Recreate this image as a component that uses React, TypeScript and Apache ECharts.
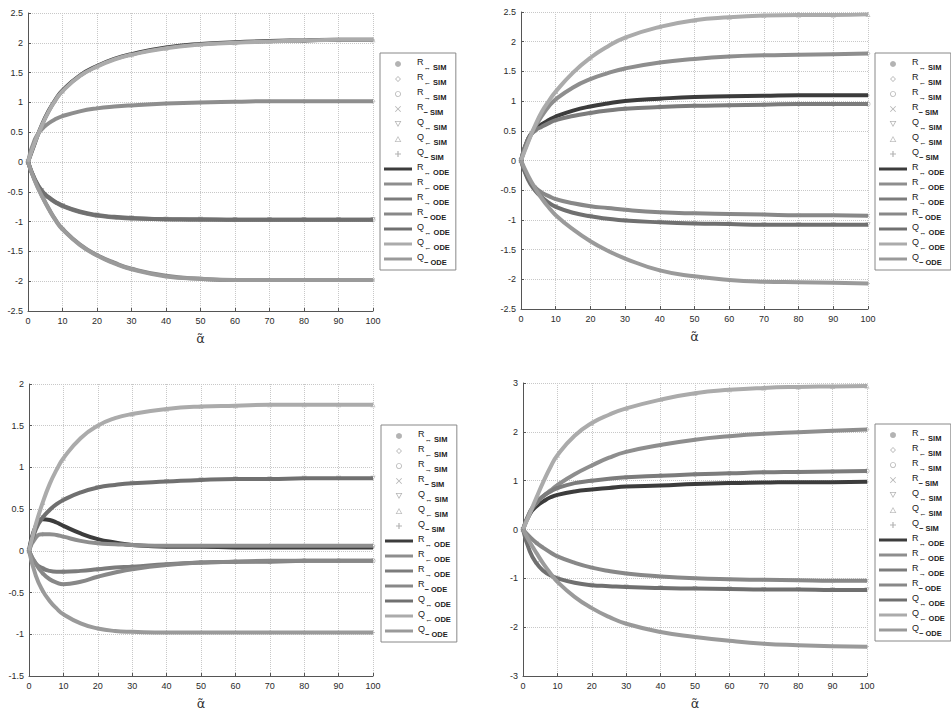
import React, { useEffect, useRef } from 'react';
import * as echarts from 'echarts';

// alpha-tilde sample points (ODE) and simulation sample points
const alpha = [0, 2, 4, 6, 8, 10, 15, 20, 25, 30, 40, 50, 60, 70, 80, 90, 100];
const simAlpha = [0, 4, 10, 20, 30, 40, 50, 60, 70, 80, 90, 100];
const xTicks = { min: 0, max: 100, step: 10 };

// Panel 1 (top left)
const p1_R_both = [0, 0.32, 0.62, 0.86, 1.05, 1.2, 1.45, 1.61, 1.73, 1.81, 1.92, 1.98, 2.01, 2.03, 2.04, 2.05, 2.05];
const p1_R_left = [0, 0.38, 0.55, 0.65, 0.72, 0.77, 0.85, 0.9, 0.93, 0.95, 0.98, 1.0, 1.01, 1.02, 1.02, 1.02, 1.02];
const p1_R_right = [0, -0.3, -0.49, -0.6, -0.68, -0.74, -0.84, -0.9, -0.93, -0.95, -0.96, -0.97, -0.97, -0.97, -0.97, -0.97, -0.97];
const p1_R_minus = [0, -0.31, -0.56, -0.78, -0.97, -1.12, -1.38, -1.56, -1.69, -1.79, -1.91, -1.96, -1.98, -1.98, -1.98, -1.98, -1.98];
const p1_Q_both = [0, -0.29, -0.48, -0.59, -0.67, -0.73, -0.83, -0.89, -0.92, -0.94, -0.96, -0.96, -0.97, -0.97, -0.97, -0.97, -0.97];
const p1_Q_left = [0, 0.33, 0.61, 0.85, 1.04, 1.19, 1.44, 1.6, 1.72, 1.8, 1.91, 1.97, 2.0, 2.02, 2.04, 2.05, 2.05];
const p1_Q_minus = [0, -0.32, -0.57, -0.79, -0.98, -1.13, -1.39, -1.57, -1.7, -1.8, -1.92, -1.96, -1.98, -1.98, -1.98, -1.98, -1.98];

// Panel 2 (top right)
const p2_R_both = [0, 0.36, 0.52, 0.61, 0.68, 0.74, 0.84, 0.91, 0.96, 1.0, 1.04, 1.07, 1.08, 1.09, 1.1, 1.1, 1.1];
const p2_R_left = [0, 0.32, 0.56, 0.75, 0.91, 1.03, 1.23, 1.37, 1.47, 1.55, 1.65, 1.71, 1.75, 1.77, 1.78, 1.79, 1.8];
const p2_R_right = [0, 0.36, 0.5, 0.57, 0.63, 0.68, 0.75, 0.8, 0.84, 0.87, 0.9, 0.92, 0.93, 0.94, 0.95, 0.95, 0.95];
const p2_R_minus = [0, -0.3, -0.45, -0.54, -0.6, -0.65, -0.72, -0.77, -0.8, -0.83, -0.87, -0.89, -0.9, -0.91, -0.92, -0.92, -0.93];
const p2_Q_both = [0, -0.32, -0.5, -0.62, -0.71, -0.78, -0.88, -0.94, -0.98, -1.01, -1.04, -1.06, -1.07, -1.08, -1.08, -1.08, -1.08];
const p2_Q_left = [0, 0.3, 0.58, 0.82, 1.0, 1.16, 1.48, 1.73, 1.92, 2.07, 2.25, 2.36, 2.41, 2.44, 2.45, 2.45, 2.46];
const p2_Q_minus = [0, -0.25, -0.46, -0.64, -0.79, -0.92, -1.16, -1.36, -1.52, -1.65, -1.85, -1.95, -2.01, -2.04, -2.05, -2.06, -2.07];

// Panel 3 (bottom left)
const p3_R_both = [0, 0.3, 0.38, 0.37, 0.34, 0.3, 0.21, 0.14, 0.1, 0.07, 0.05, 0.05, 0.04, 0.04, 0.04, 0.04, 0.04];
const p3_R_left = [0, 0.16, 0.2, 0.2, 0.19, 0.17, 0.12, 0.09, 0.08, 0.07, 0.06, 0.06, 0.06, 0.06, 0.06, 0.06, 0.06];
const p3_R_right = [0, -0.15, -0.21, -0.24, -0.25, -0.25, -0.24, -0.22, -0.2, -0.19, -0.16, -0.14, -0.13, -0.13, -0.12, -0.12, -0.12];
const p3_R_minus = [0, -0.16, -0.27, -0.34, -0.38, -0.4, -0.37, -0.31, -0.26, -0.22, -0.17, -0.14, -0.13, -0.12, -0.12, -0.12, -0.12];
const p3_Q_both = [0, 0.26, 0.4, 0.49, 0.56, 0.61, 0.7, 0.76, 0.79, 0.81, 0.83, 0.85, 0.86, 0.86, 0.87, 0.87, 0.87];
const p3_Q_left = [0, 0.32, 0.58, 0.8, 0.97, 1.11, 1.35, 1.5, 1.59, 1.64, 1.7, 1.73, 1.74, 1.75, 1.75, 1.75, 1.75];
const p3_Q_minus = [0, -0.3, -0.48, -0.6, -0.69, -0.76, -0.87, -0.93, -0.96, -0.97, -0.98, -0.98, -0.98, -0.98, -0.98, -0.98, -0.98];

// Panel 4 (bottom right)
const p4_R_both = [0, 0.32, 0.48, 0.58, 0.66, 0.71, 0.78, 0.82, 0.85, 0.88, 0.9, 0.93, 0.95, 0.96, 0.97, 0.97, 0.98];
const p4_R_left = [0, 0.35, 0.55, 0.69, 0.8, 0.91, 1.13, 1.31, 1.47, 1.59, 1.73, 1.84, 1.91, 1.96, 1.99, 2.02, 2.05];
const p4_R_right = [0, 0.36, 0.56, 0.69, 0.78, 0.85, 0.95, 1.0, 1.04, 1.07, 1.1, 1.13, 1.15, 1.17, 1.18, 1.19, 1.2];
const p4_R_minus = [0, -0.15, -0.28, -0.38, -0.47, -0.55, -0.68, -0.78, -0.85, -0.9, -0.96, -1.0, -1.02, -1.03, -1.04, -1.05, -1.05];
const p4_Q_both = [0, -0.45, -0.7, -0.85, -0.94, -1.0, -1.09, -1.14, -1.16, -1.18, -1.2, -1.21, -1.22, -1.23, -1.23, -1.24, -1.24];
const p4_Q_left = [0, 0.33, 0.67, 0.99, 1.28, 1.52, 1.92, 2.18, 2.35, 2.48, 2.66, 2.79, 2.86, 2.9, 2.92, 2.93, 2.94];
const p4_Q_minus = [0, -0.26, -0.49, -0.71, -0.9, -1.07, -1.38, -1.61, -1.79, -1.93, -2.1, -2.2, -2.28, -2.34, -2.37, -2.39, -2.4];

// Quantity labels
const quantityLabels = ['R↔', 'R←', 'R→', 'R−', 'Q↔', 'Q←', 'Q−'];

const panelValues = [
  [p1_R_both, p1_R_left, p1_R_right, p1_R_minus, p1_Q_both, p1_Q_left, p1_Q_minus],
  [p2_R_both, p2_R_left, p2_R_right, p2_R_minus, p2_Q_both, p2_Q_left, p2_Q_minus],
  [p3_R_both, p3_R_left, p3_R_right, p3_R_minus, p3_Q_both, p3_Q_left, p3_Q_minus],
  [p4_R_both, p4_R_left, p4_R_right, p4_R_minus, p4_Q_both, p4_Q_left, p4_Q_minus],
];
const panelYMin = [-2.5, -2.5, -1.5, -3];
const panelYMax = [2.5, 2.5, 2, 3];
const panelYStep = [0.5, 0.5, 0.5, 1];

// ----- styles / layout -----
const FONT = 'Liberation Sans, Arial, sans-serif';
const gridBoxes = [
  { left: 28, top: 13, width: 345, height: 298 },
  { left: 521, top: 12, width: 347, height: 297 },
  { left: 29, top: 384, width: 344, height: 299 },
  { left: 523, top: 383, width: 344, height: 298 },
];
const legendPos = [
  { left: 380, top: 53 },
  { left: 875, top: 53 },
  { left: 381, top: 425 },
  { left: 875, top: 424 },
];
const odeColors = ['#3c3c3c', '#8e8e8e', '#7c7c7c', '#888888', '#707070', '#ababab', '#9a9a9a'];
const simColors = ['#a0a0a0', '#a8a8a8', '#aaaaaa', '#a0a0a0', '#a0a0a0', '#adadad', '#a0a0a0'];

// marker shapes (filled paths, hollow ones drawn as rings so legend keeps their aspect)
const DOT = 'path://M5,0A5,5 0 1,1 4.99,0Z';
const RING = 'path://M5,0A5,5 0 1,1 4.99,0Z M5,1.4A3.6,3.6 0 1,0 5.01,1.4Z';
const DIAMOND = 'path://M5,0L10,5L5,10L0,5Z M5,1.8L1.8,5L5,8.2L8.2,5Z';
const X_MARK = 'path://M0,1L1,0L5,4L9,0L10,1L6,5L10,9L9,10L5,6L1,10L0,9L4,5Z';
const TRI_DOWN = 'path://M0,0L10,0L5,9Z M1.9,1.1L5,6.6L8.1,1.1Z';
const TRI_UP = 'path://M5,0L10,9L0,9Z M5,2.4L1.9,7.9L8.1,7.9Z';
const STAR = 'path://M4,0L6,0L6,4L10,4L10,6L6,6L6,10L4,10L4,6L0,6L0,4L4,4Z';
const LINE_ICON = 'path://M0,0L28,0L28,3L0,3Z';
const simSymbols = [DOT, DIAMOND, RING, X_MARK, TRI_DOWN, TRI_UP, STAR];
const simSymbolSizes = [3, 5, 5, 4, 5, 5, 4];

function buildOption() {
  const grid: any[] = [];
  const xAxis: any[] = [];
  const yAxis: any[] = [];
  const legend: any[] = [];
  const series: any[] = [];

  for (let p = 0; p < 4; p++) {
    grid.push({ ...gridBoxes[p], containLabel: false, show: false });
    xAxis.push({
      type: 'value',
      gridIndex: p,
      min: xTicks.min,
      max: xTicks.max,
      interval: xTicks.step,
      name: 'α\u0303',
      nameLocation: 'middle',
      nameGap: 21,
      nameTextStyle: { fontSize: 13, color: '#333', fontFamily: 'DejaVu Sans' },
      axisLine: { show: true, onZero: false, lineStyle: { color: '#555', width: 1 } },
      axisTick: { show: true, inside: true, length: 3, lineStyle: { color: '#555' } },
      axisLabel: { fontSize: 9, color: '#2a2a2a', margin: 5, fontFamily: FONT },
      splitLine: { show: true, lineStyle: { color: '#c8c8c8', type: 'dotted', width: 1 } },
    });
    yAxis.push({
      type: 'value',
      gridIndex: p,
      min: panelYMin[p],
      max: panelYMax[p],
      interval: panelYStep[p],
      axisLine: { show: true, onZero: false, lineStyle: { color: '#555', width: 1 } },
      axisTick: { show: true, inside: true, length: 3, lineStyle: { color: '#555' } },
      axisLabel: { fontSize: 9, color: '#2a2a2a', margin: 5, fontFamily: FONT },
      splitLine: { show: true, lineStyle: { color: '#c8c8c8', type: 'dotted', width: 1 } },
    });

    const legendData: any[] = [];
    const vals = panelValues[p];
    // simulation markers
    for (let q = 0; q < 7; q++) {
      const name = `${p}|${quantityLabels[q]} SIM`;
      legendData.push({ name, icon: simSymbols[q] });
      series.push({
        type: 'scatter',
        name,
        xAxisIndex: p,
        yAxisIndex: p,
        symbol: simSymbols[q],
        symbolSize: simSymbolSizes[q],
        itemStyle: { color: simColors[q], borderWidth: 0 },
        data: simAlpha.map((x) => [x, vals[q][alpha.indexOf(x)]]),
        z: 2,
      });
    }
    // ODE curves
    for (let q = 0; q < 7; q++) {
      const name = `${p}|${quantityLabels[q]} ODE`;
      legendData.push({ name, icon: LINE_ICON });
      series.push({
        type: 'line',
        name,
        xAxisIndex: p,
        yAxisIndex: p,
        symbol: 'none',
        smooth: 0.5,
        lineStyle: { color: odeColors[q], width: 4 },
        itemStyle: { color: odeColors[q] },
        data: alpha.map((x, k) => [x, vals[q][k]]),
        z: 3,
      });
    }

    legend.push({
      data: legendData,
      orient: 'vertical',
      left: legendPos[p].left,
      top: legendPos[p].top,
      padding: [4, 6, 4, 4],
      itemGap: 1,
      itemWidth: 28,
      itemHeight: 6,
      symbolKeepAspect: true,
      selectedMode: false,
      backgroundColor: '#fff',
      borderColor: '#888',
      borderWidth: 1,
      formatter: (n: string) => {
        const label = n.split('|')[1];
        return `{m|${label[0]}}{s|${label.slice(1)}}`;
      },
      textStyle: {
        fontFamily: FONT,
        color: '#222',
        rich: {
          m: { fontSize: 9, lineHeight: 14, verticalAlign: 'top', color: '#222', fontFamily: FONT },
          s: { fontSize: 7.5, lineHeight: 14, verticalAlign: 'bottom', color: '#222', fontWeight: 'bold', fontFamily: FONT },
        },
      },
    });
  }

  return {
    animation: false,
    backgroundColor: '#fff',
    textStyle: { fontFamily: FONT },
    grid,
    xAxis,
    yAxis,
    legend,
    series,
  };
}

export default function App() {
  const ref = useRef<HTMLDivElement>(null);
  useEffect(() => {
    if (!ref.current) return;
    const chart = echarts.init(ref.current, undefined, { renderer: 'svg' });
    chart.setOption(buildOption() as any);
    return () => chart.dispose();
  }, []);
  return (
    <div
      ref={ref}
      style={{ position: 'fixed', left: 0, top: 0, width: 951, height: 711, background: '#fff' }}
    />
  );
}
